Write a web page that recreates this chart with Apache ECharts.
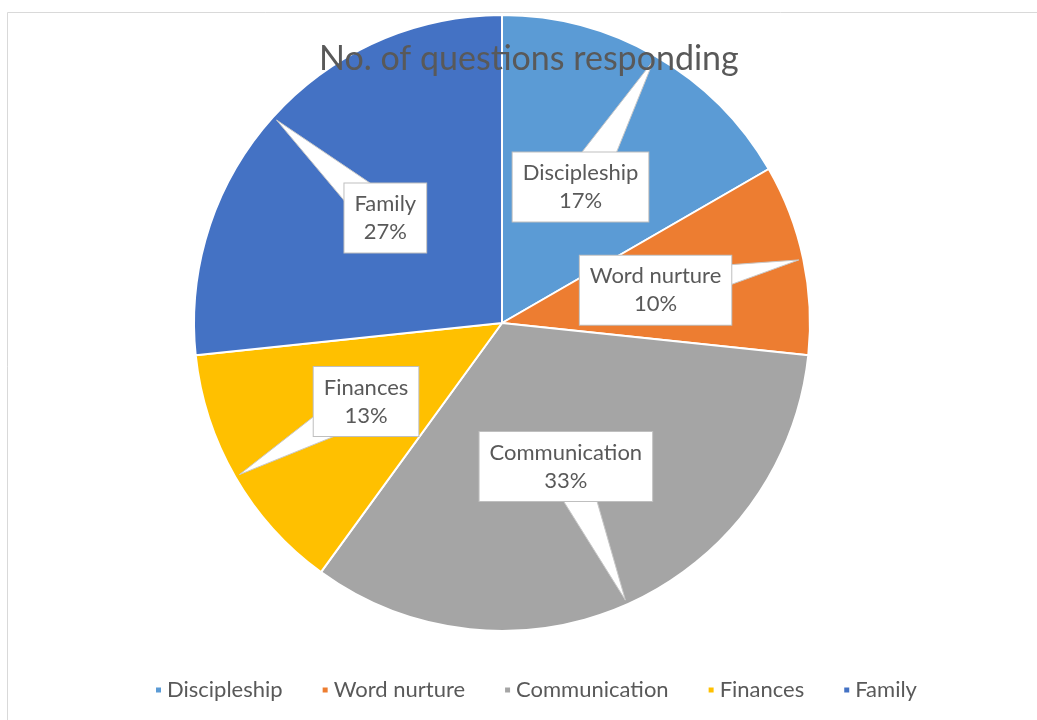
<!DOCTYPE html>
<html><head><meta charset="utf-8">
<script src="https://cdn.jsdelivr.net/npm/echarts@6/dist/echarts.min.js"></script>
<style>html,body{margin:0;padding:0;background:#fff}#main{width:1037px;height:720px}</style>
</head><body><div id="main"></div>
<script>
const titleText = 'No. of questions responding';
const categories = ['Discipleship', 'Word nurture', 'Communication', 'Finances', 'Family'];
const values = [5, 3, 10, 4, 8];
const colors = ['#5B9BD5', '#ED7D31', '#A5A5A5', '#FFC000', '#4472C4'];

const FONT = 'Lato, "Open Sans", sans-serif';
const TITLE_SIZE = 34;
const TITLE_CENTER_X = 529;
const PIE_CENTER = [502, 323];
const PIE_RADIUS = 308;
const START_ANGLE = 90;

function measure(text, size) {
  const c = document.createElement('canvas').getContext('2d');
  c.font = size + 'px ' + FONT;
  return c.measureText(text).width;
}

const chart = echarts.init(document.getElementById('main'), null, {renderer: 'canvas'});
const titleW = measure(titleText, TITLE_SIZE);
const pieData = categories.map((c, i) => ({name: c, value: values[i]}));

const labelStyle = {
  show: true,
  position: 'inside',
  formatter: '{b}\n{d}%',
  fontFamily: FONT,
  fontSize: 22,
  lineHeight: 28,
  color: '#595959',
  backgroundColor: '#ffffff',
  borderColor: '#bfbfbf',
  borderWidth: 1,
  padding: [7, 10, 6, 10]
};

chart.setOption({
  animation: false,
  backgroundColor: '#ffffff',
  color: colors,
  title: {
    text: titleText,
    left: Math.round(TITLE_CENTER_X - titleW / 2),
    top: 40,
    padding: 0,
    z: 10,
    textStyle: {fontFamily: FONT, fontSize: TITLE_SIZE, fontWeight: 'normal', color: '#595959', lineHeight: 38}
  },
  legend: {
    data: categories,
    left: 154,
    top: 678,
    icon: 'rect',
    itemWidth: 7,
    itemHeight: 7,
    itemGap: 38,
    padding: 0,
    selectedMode: false,
    textStyle: {fontFamily: FONT, fontSize: 22, color: '#595959', lineHeight: 24}
  },
  series: [{
    // slices
    type: 'pie',
    z: 1,
    center: PIE_CENTER,
    radius: [0, PIE_RADIUS],
    startAngle: START_ANGLE,
    clockwise: true,
    data: pieData,
    itemStyle: {borderColor: '#ffffff', borderWidth: 2},
    label: {show: false},
    labelLine: {show: false},
    emphasis: {disabled: true}
  }, {
    // callout labels, drawn above the tails
    type: 'pie',
    z: 3,
    center: PIE_CENTER,
    radius: [0, PIE_RADIUS],
    startAngle: START_ANGLE,
    clockwise: true,
    percentPrecision: 0,
    silent: true,
    data: pieData,
    itemStyle: {color: 'rgba(0,0,0,0)', borderWidth: 0},
    label: labelStyle,
    labelLine: {show: false},
    emphasis: {disabled: true}
  }]
});

// Callout tails derived from the pie layout
function getLayouts() {
  const out = [];
  try {
    const data = chart.getModel().getSeriesByIndex(0).getData();
    data.each(function (idx) { out.push(data.getItemLayout(idx)); });
    if (out.length === values.length && out[0] && isFinite(out[0].cx)) return out;
  } catch (e) {}
  const total = values.reduce((a, b) => a + b, 0);
  let a = -START_ANGLE * Math.PI / 180;
  return values.map(v => {
    const s = a; a += v / total * Math.PI * 2;
    return {cx: PIE_CENTER[0], cy: PIE_CENTER[1], r: PIE_RADIUS, r0: 0, startAngle: s, endAngle: a};
  });
}

const elements = [{
  type: 'rect', silent: true, z: 0,
  shape: {x: 7.5, y: 12.5, width: 1100, height: 800},
  style: {fill: 'none', stroke: '#d9d9d9', lineWidth: 1}
}];
getLayouts().forEach(function (L) {
  const mid = (L.startAngle + L.endAngle) / 2;
  const dx = Math.cos(mid), dy = Math.sin(mid);
  const rl = ((L.r0 || 0) + L.r) / 2, rt = L.r * 0.985;
  const bx = L.cx + dx * rl, by = L.cy + dy * rl;
  const tx = L.cx + dx * rt, ty = L.cy + dy * rt;
  const hw = 21;
  const px = -dy * hw, py = dx * hw;
  elements.push({
    type: 'polygon', silent: true, z: 2,
    shape: {points: [[bx + px, by + py], [bx - px, by - py], [tx, ty]]},
    style: {fill: '#ffffff', stroke: '#c8c8c8', lineWidth: 1}
  });
});
chart.setOption({graphic: {elements: elements}});
</script>
</body></html>
